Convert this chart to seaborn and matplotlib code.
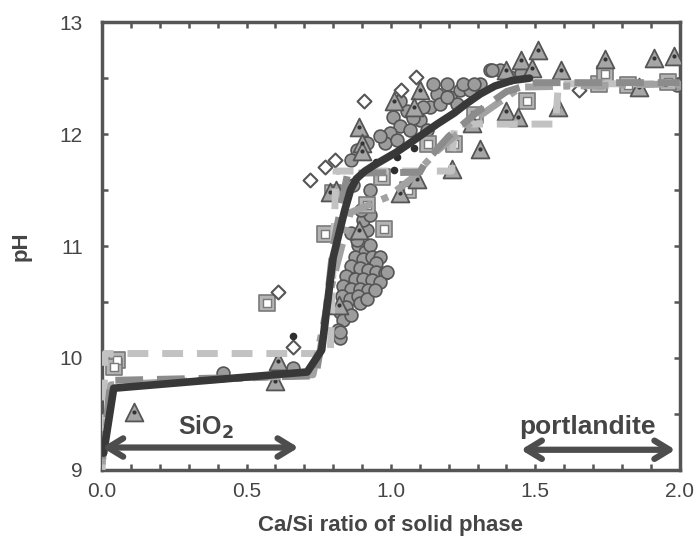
import numpy as np
import pandas as pd
import matplotlib
matplotlib.use('Agg')
import matplotlib.pyplot as plt
from matplotlib.ticker import MultipleLocator
import seaborn as sns

# ── Data ────────────────────────────────────────────────────────────────────────
circ_x = [0.887, 0.910, 0.927, 0.875, 0.904, 0.933, 0.962, 0.950, 0.863, 0.892,
          0.921, 0.950, 0.979, 0.846, 0.875, 0.904, 0.933, 0.962, 0.834, 0.863,
          0.892, 0.921, 0.829, 0.858, 0.887, 0.846, 0.823, 0.834, 0.817, 0.823,
          0.892, 0.863, 0.916, 0.944, 0.985, 0.881, 0.916, 0.904, 0.927, 0.898,
          1.008, 1.031, 1.055, 0.997, 1.101, 1.135, 1.159, 1.147, 1.193, 1.205,
          1.240, 1.274, 1.309, 1.344, 1.378, 1.413, 1.228, 1.170, 1.112, 1.077,
          1.066, 1.251, 1.286, 0.979, 1.020, 1.124, 1.193, 1.031,
          0.881, 0.916, 0.962, 0.863, 0.927, 1.990, 1.350, 1.450, 0.420, 0.660,
          0.823, 0.860, 0.870]
circ_y = [11.01, 10.95, 11.01, 10.90, 10.88, 10.90, 10.90, 10.85, 10.82, 10.80,
          10.79, 10.77, 10.76, 10.73, 10.71, 10.71, 10.70, 10.68, 10.64, 10.62,
          10.62, 10.61, 10.55, 10.53, 10.55, 10.46, 10.41, 10.34, 10.25, 10.18,
          10.49, 10.38, 10.53, 10.61, 10.77, 11.05, 11.14, 11.23, 11.28, 11.32,
          12.15, 12.07, 12.21, 12.01, 12.13, 12.24, 12.36, 12.45, 12.45, 12.33,
          12.39, 12.39, 12.45, 12.57, 12.57, 12.51, 12.27, 12.27, 12.24, 12.14,
          12.04, 12.45, 12.45, 11.92, 11.95, 12.04, 12.33, 12.30,
          11.86, 11.92, 11.98, 11.77, 11.50, 12.44, 12.57, 12.55, 9.87, 9.91,
          10.23, 11.12, 11.55]

tri_x = [0.11, 0.61, 0.60, 0.89, 0.90, 0.90, 1.01, 1.10, 1.08, 1.45,
         1.51, 1.74, 1.91, 1.98, 1.40, 1.44, 1.58, 1.31, 1.21, 1.03,
         0.81, 1.40, 1.49, 1.59, 1.86, 1.09, 0.89, 0.82, 0.79, 1.28]
tri_y = [9.52, 9.97, 9.79, 12.06, 11.92, 11.85, 12.30, 12.39, 12.24, 12.66,
         12.75, 12.67, 12.68, 12.70, 12.21, 12.15, 12.24, 11.87, 11.69, 11.47,
         11.50, 12.57, 12.59, 12.57, 12.42, 11.60, 11.14, 10.47, 11.48, 12.10]

sq_x = [0.57, 0.77, 0.976, 0.917, 1.13, 1.22, 1.06, 0.97, 1.47, 1.29,
        1.72, 1.82, 1.96, 1.74, 0.80, 0.05, 0.04]
sq_y = [10.49, 11.11, 11.15, 11.37, 11.91, 11.91, 11.50, 11.62, 12.30, 12.17,
        12.45, 12.44, 12.47, 12.54, 11.47, 9.98, 9.92]

dia_x = [1.087, 1.035, 0.906, 0.806, 0.77, 0.72, 0.61, 0.66, 1.65]
dia_y = [12.51, 12.39, 12.30, 11.77, 11.71, 11.59, 10.59, 10.10, 12.39]

dot_x = [0.66, 1.08, 1.02, 1.01, 0.95]
dot_y = [10.20, 11.88, 11.80, 11.68, 11.75]

# model curves
blk_x = [0.005, 0.04, 0.71, 0.76, 0.80, 0.84, 0.86, 0.88, 0.91, 0.94,
         0.98, 1.02, 1.06, 1.11, 1.16, 1.22, 1.26, 1.31, 1.36, 1.42, 1.48]
blk_y = [9.15, 9.73, 9.875, 10.07, 10.90, 11.32, 11.50, 11.60, 11.67, 11.72,
         11.78, 11.84, 11.91, 12.00, 12.09, 12.19, 12.27, 12.36, 12.43, 12.48, 12.50]

medB_x = [0.0, 0.03, 0.74, 0.77, 0.80, 0.85, 1.10, 1.12, 1.20, 1.30, 1.40, 1.50, 2.0]
medB_y = [9.10, 9.80, 9.84, 10.30, 11.00, 11.65, 11.66, 11.75, 11.98, 12.20, 12.38, 12.46, 12.46]

litC_x = [0.0, 0.01, 0.79, 0.81, 1.21, 1.22, 1.57, 1.58, 2.0]
litC_y = [9.0, 10.04, 10.04, 11.67, 11.67, 12.09, 12.09, 12.45, 12.45]

grD_x = [0.0, 0.03, 0.73, 0.79, 0.86, 0.99, 1.07, 1.16, 1.30, 1.45, 2.0]
grD_y = [9.05, 9.76, 9.85, 10.60, 11.30, 11.44, 11.60, 11.85, 12.15, 12.42, 12.45]

X_TICKS = [0.0, 0.5, 1.0, 1.5, 2.0]
Y_TICKS = [9, 10, 11, 12, 13]

# ── Style ───────────────────────────────────────────────────────────────────────
sns.set_theme(style='ticks')
plt.rcParams['font.family'] = ['Liberation Sans', 'DejaVu Sans']

INK = '#454545'

fig = plt.figure(figsize=(6.95, 5.42), dpi=100)
ax = fig.add_axes([0.147, 0.133, 0.831, 0.826])

# ── Scatter (measured data) ─────────────────────────────────────────────────────
sns.scatterplot(x=circ_x, y=circ_y, marker='o', s=85, color='#9c9c9c',
                edgecolor='#555555', linewidth=1.2, ax=ax, zorder=3)
sns.scatterplot(x=sq_x, y=sq_y, marker='s', s=130, color='#b4b4b4',
                edgecolor='#7a7a7a', linewidth=1.2, ax=ax, zorder=3)
sns.scatterplot(x=sq_x, y=sq_y, marker='s', s=32, color='white',
                edgecolor='#7a7a7a', linewidth=1.0, ax=ax, zorder=3)
sns.scatterplot(x=dia_x, y=dia_y, marker='D', s=50, color='white',
                edgecolor='#555555', linewidth=1.5, ax=ax, zorder=3)
sns.scatterplot(x=tri_x, y=tri_y, marker='^', s=165, color='#a6a6a6',
                edgecolor='#555555', linewidth=1.3, ax=ax, zorder=3)
sns.scatterplot(x=tri_x, y=tri_y, marker='o', s=9, color='#333333',
                linewidth=0, ax=ax, zorder=3)
sns.scatterplot(x=dot_x, y=dot_y, marker='o', s=30, color='#2e2e2e',
                linewidth=0, ax=ax, zorder=3)

# ── Model curves ────────────────────────────────────────────────────────────────
sns.lineplot(x=litC_x, y=litC_y, sort=False, estimator=None, color='#c2c2c2',
             linewidth=5, linestyle=(0, (3, 2)), ax=ax, zorder=4)
sns.lineplot(x=grD_x, y=grD_y, sort=False, estimator=None, color='#a2a2a2',
             linewidth=5, linestyle=(0, (4, 1.5, 1, 1.5)), ax=ax, zorder=4)
sns.lineplot(x=medB_x, y=medB_y, sort=False, estimator=None, color='#8c8c8c',
             linewidth=5, linestyle=(0, (4, 2)), ax=ax, zorder=4)
sns.lineplot(x=blk_x, y=blk_y, sort=False, estimator=None, color='#383838',
             linewidth=5.5, ax=ax, zorder=5)

# ── Annotations ─────────────────────────────────────────────────────────────────
arrow_kw = dict(arrowstyle='<->,head_length=0.9,head_width=0.55',
                color='#4d4d4d', lw=4.5, shrinkA=0, shrinkB=0)
ax.annotate('', xy=(0.0, 9.2), xytext=(0.68, 9.2), arrowprops=arrow_kw, zorder=6)
ax.annotate('', xy=(1.45, 9.18), xytext=(1.985, 9.18), arrowprops=arrow_kw, zorder=6)
ax.text(0.36, 9.38, 'SiO$_\\mathbf{2}$', ha='center', va='center',
        fontsize=18, fontweight='bold', color=INK)
ax.text(1.68, 9.38, 'portlandite', ha='center', va='center',
        fontsize=19, fontweight='bold', color=INK)

# ── Axes ────────────────────────────────────────────────────────────────────────
ax.set_xlim(0, 2.0)
ax.set_ylim(9, 13)
ax.set_xticks(X_TICKS)
ax.set_xticklabels([f'{t:.1f}' for t in X_TICKS])
ax.set_yticks(Y_TICKS)
ax.xaxis.set_minor_locator(MultipleLocator(0.1))
ax.yaxis.set_minor_locator(MultipleLocator(0.5))
ax.tick_params(which='both', direction='in', top=True, right=True,
               length=4, width=1.8, color='#555555', labelsize=15,
               labelcolor=INK)
ax.tick_params(axis='x', pad=9)
ax.tick_params(axis='y', pad=14)
for sp in ax.spines.values():
    sp.set_linewidth(2.5)
    sp.set_color('#555555')

ax.set_xlabel('Ca/Si ratio of solid phase', fontsize=16, fontweight='bold',
              color=INK, labelpad=10)
ax.set_ylabel('pH', fontsize=16, fontweight='bold', color=INK, labelpad=20)

fig.savefig('out.png', dpi=100)
